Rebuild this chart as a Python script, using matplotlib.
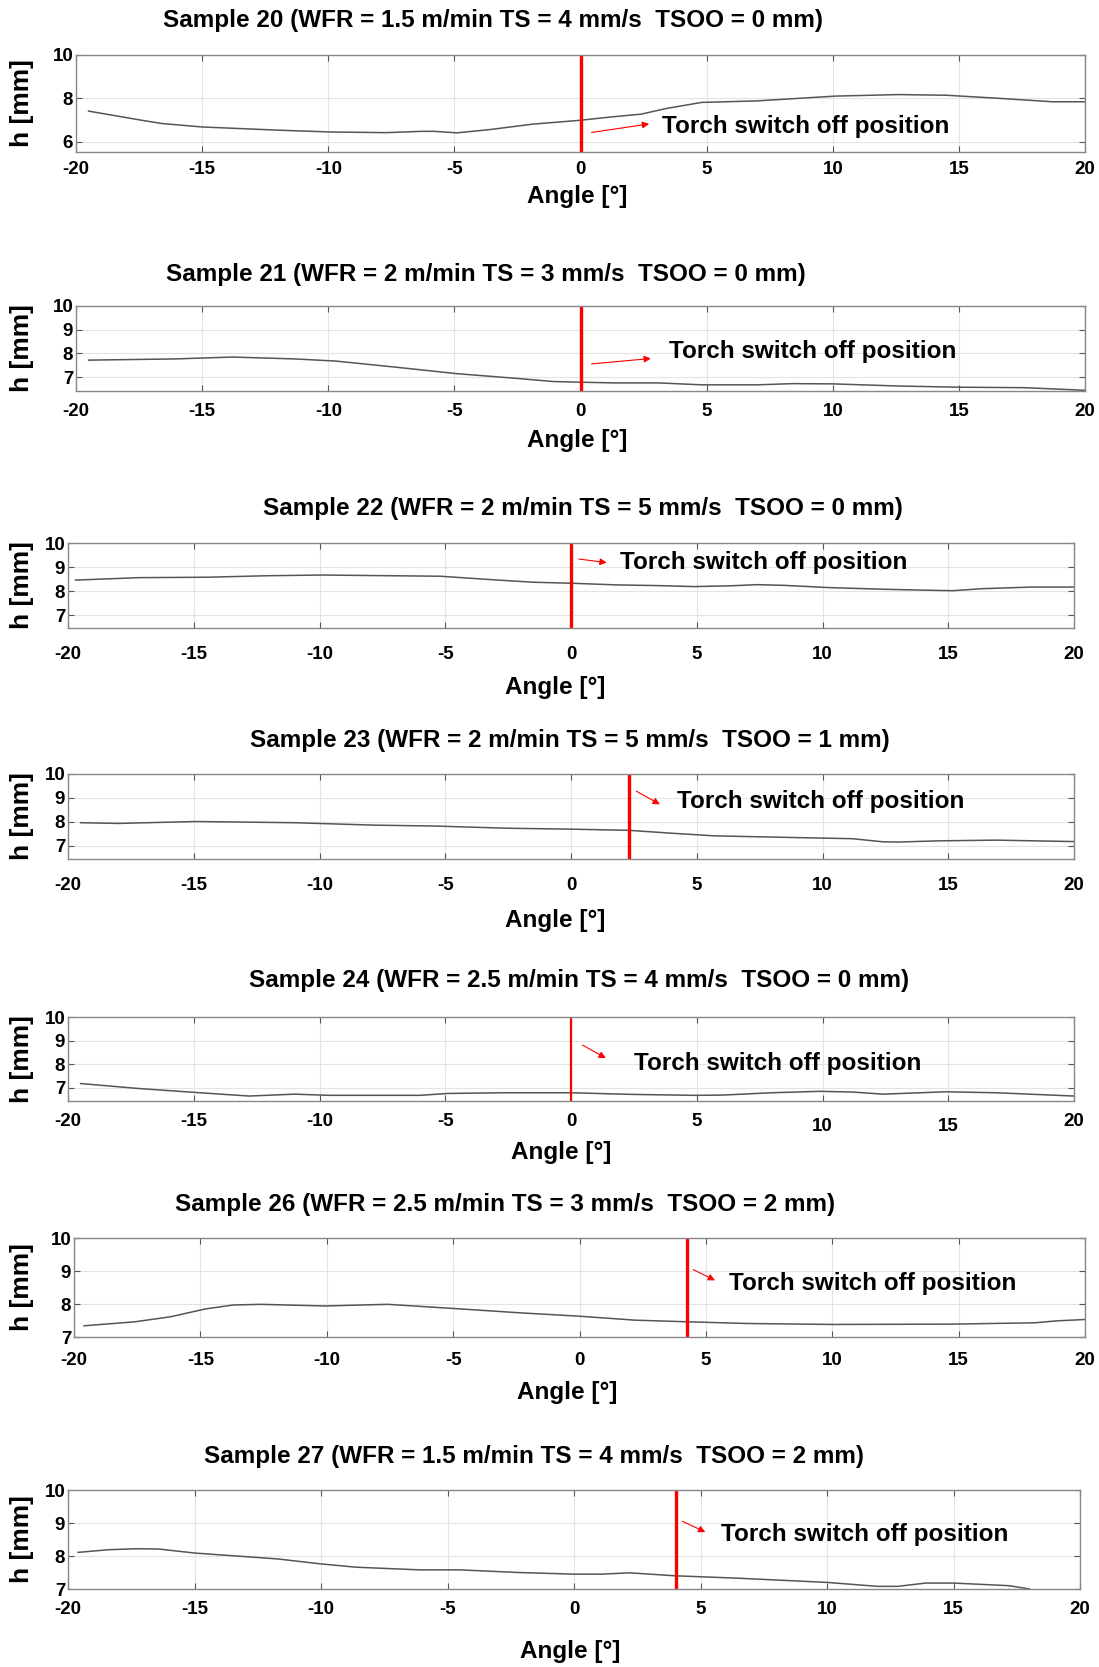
import numpy as np
import matplotlib.pyplot as plt
from matplotlib import transforms

plt.rcParams['font.family'] = ['Liberation Sans', 'DejaVu Sans']
plt.rcParams['font.weight'] = 'bold'
plt.rcParams['axes.unicode_minus'] = False

# Données
titles = [
    "Sample 20 (WFR = 1.5 m/min TS = 4 mm/s  TSOO = 0 mm)",
    "Sample 21 (WFR = 2 m/min TS = 3 mm/s  TSOO = 0 mm)",
    "Sample 22 (WFR = 2 m/min TS = 5 mm/s  TSOO = 0 mm)",
    "Sample 23 (WFR = 2 m/min TS = 5 mm/s  TSOO = 1 mm)",
    "Sample 24 (WFR = 2.5 m/min TS = 4 mm/s  TSOO = 0 mm)",
    "Sample 26 (WFR = 2.5 m/min TS = 3 mm/s  TSOO = 2 mm)",
    "Sample 27 (WFR = 1.5 m/min TS = 4 mm/s  TSOO = 2 mm)",
]

angle_20 = [-19.5, -17.4, -16.6, -15, -11.9, -9.9, -7.7, -6.3, -5.8, -4.9, -3.6, -1.9, 0, 1.2, 2.4, 3.4, 4.8, 7.0, 10.1, 12.6, 14.5, 16.7, 18.7, 20]
h_20 = [7.42, 7.0, 6.85, 6.69, 6.54, 6.46, 6.43, 6.49, 6.49, 6.42, 6.57, 6.82, 7.0, 7.15, 7.28, 7.54, 7.82, 7.89, 8.11, 8.18, 8.15, 8.0, 7.85, 7.85]

angle_21 = [-19.5, -16.1, -13.8, -11.3, -9.7, -7.2, -4.9, -2.4, -1.1, 0, 1.4, 3.1, 4.8, 7, 8.4, 10, 12.6, 15, 17.6, 20]
h_21 = [7.72, 7.77, 7.85, 7.77, 7.68, 7.41, 7.15, 6.94, 6.82, 6.79, 6.76, 6.76, 6.68, 6.68, 6.73, 6.72, 6.63, 6.58, 6.56, 6.45]

angle_22 = [-19.7, -17.2, -14.4, -12.1, -9.9, -7.1, -5.2, -3.2, -1.5, 0, 1.8, 3.5, 4.9, 6.3, 7.4, 8.5, 10.2, 12.4, 14.1, 15.2, 16.3, 18.3, 20]
h_22 = [8.46, 8.56, 8.58, 8.64, 8.67, 8.64, 8.62, 8.48, 8.37, 8.33, 8.26, 8.23, 8.19, 8.22, 8.27, 8.24, 8.15, 8.08, 8.04, 8.02, 8.1, 8.17, 8.17]

angle_23 = [-19.5, -18, -14.9, -11, -7.9, -5.4, -2.6, 0, 2.3, 4, 5.7, 7.9, 9.3, 11.2, 12.4, 13, 14.6, 16.9, 20]
h_23 = [7.96, 7.93, 8.01, 7.96, 7.86, 7.82, 7.73, 7.69, 7.64, 7.52, 7.41, 7.36, 7.33, 7.29, 7.16, 7.15, 7.2, 7.23, 7.17]

angle_24 = [-19.5, -17.2, -14.9, -12.8, -11, -9.6, -6, -4.9, -2.6, 0, 2.4, 4.9, 6, 8, 9.9, 11.2, 12.4, 14.9, 16.9, 20]
h_24 = [7.18, 6.97, 6.8, 6.65, 6.73, 6.68, 6.68, 6.76, 6.79, 6.79, 6.72, 6.68, 6.69, 6.79, 6.85, 6.82, 6.73, 6.83, 6.79, 6.65]

angle_26 = [-19.6, -17.6, -16.2, -14.8, -13.7, -12.6, -10.1, -7.6, -5.1, -2.3, 0, 2.2, 4.3, 6.6, 10, 14.7, 18, 18.9, 20]
h_26 = [7.34, 7.46, 7.61, 7.85, 7.97, 7.99, 7.94, 7.99, 7.87, 7.73, 7.63, 7.51, 7.46, 7.41, 7.38, 7.39, 7.43, 7.49, 7.53]

angle_27 = [-19.6, -18.4, -17.3, -16.4, -15, -12.8, -11.7, -10, -8.6, -6.1, -4.5, -2.2, 0, 1.1, 2.2, 4, 6.4, 10, 12, 12.8, 13.9, 15, 17.2, 18]
h_27 = [8.11, 8.19, 8.22, 8.21, 8.09, 7.97, 7.91, 7.76, 7.66, 7.58, 7.58, 7.5, 7.45, 7.45, 7.49, 7.4, 7.33, 7.2, 7.08, 7.08, 7.18, 7.18, 7.1, 7.0]

angles = [angle_20, angle_21, angle_22, angle_23, angle_24, angle_26, angle_27]
heights = [h_20, h_21, h_22, h_23, h_24, h_26, h_27]
switch_off = [0, 0, 0, 2.3, 0, 4.26, 4.04]
y_ticks = [[6, 8, 10], [7, 8, 9, 10], [7, 8, 9, 10], [7, 8, 9, 10],
           [7, 8, 9, 10], [7, 8, 9, 10], [7, 8, 9, 10]]
y_limits = [(5.54, 10), (6.42, 10), (6.47, 10), (6.44, 10), (6.44, 10), (7, 10), (7, 10)]
# flèche : (queue x, queue y, tête x, tête y, texte x, texte y)
arrows = [
    (0.33, 6.42, 2.83, 6.85, 3.25, 6.72),
    (0.33, 7.55, 2.9, 7.8, 3.5, 8.1),
    (0.2, 9.35, 1.53, 9.17, 1.95, 9.2),
    (2.5, 9.34, 3.63, 8.67, 4.2, 8.85),
    (0.36, 8.87, 1.48, 8.2, 2.5, 8.03),
    (4.4, 9.08, 5.46, 8.68, 5.93, 8.63),
    (4.18, 9.09, 5.29, 8.69, 5.8, 8.64),
]

# Mise en page (pixels) : gauche, haut, droite, bas, titre (x, y), xlabel (x, y), y des étiquettes x
W, H = 1099, 1667
layout = [
    (76, 55, 1085, 152, 493, 20, 577, 197, 170),
    (76, 306, 1085, 391, 486, 275, 577, 440, 412),
    (68, 543, 1074, 628, 583, 508, 555, 687, 655),
    (68, 774, 1074, 859, 570, 740, 555, 920, 886),
    (68, 1017, 1074, 1101, 579, 980, 561, 1152, 1122),
    (74, 1238, 1085, 1337, 505, 1204, 567, 1393, 1361),
    (68, 1490, 1080, 1589, 534, 1456, 570, 1651, 1610),
]

fig = plt.figure(figsize=(W / 100, H / 100), dpi=100)

for i in range(7):
    l, t, r, b, tx, ty, lx, ly, tly = layout[i]
    ax = fig.add_axes([l / W, 1 - b / H, (r - l) / W, (b - t) / H])
    ax.plot(angles[i], heights[i], color='#555555', lw=1.1)
    ax.set_xlim(-20, 20)
    ax.set_ylim(*y_limits[i])
    ax.set_xticks(range(-20, 21, 5))
    ax.set_yticks(y_ticks[i])
    ax.grid(True, color='#e4e4e4', lw=0.8)
    ax.set_axisbelow(True)
    for s in ax.spines.values():
        s.set_color('#888888')
        s.set_linewidth(1.0)
    pad = (tly - b - 9) * 0.72
    ax.tick_params(axis='x', direction='in', top=True, length=4, pad=pad,
                   labelsize=13.5, color='#555555')
    ax.tick_params(axis='y', direction='in', right=True, length=4, pad=2,
                   labelsize=13.5, color='#555555')
    if i == 4:
        for lab in ax.get_xticklabels():
            if lab.get_text() in ('10', '15'):
                lab.set_transform(lab.get_transform() + transforms.ScaledTranslation(0, -5 / 100, fig.dpi_scale_trans))
    ax.axvline(switch_off[i], color='red', lw=2.4 if i != 4 else 1.6)
    x0, y0, x1, y1, xt, yt = arrows[i]
    ax.annotate('', xy=(x1, y1), xytext=(x0, y0),
                arrowprops=dict(arrowstyle='-|>', color='red', lw=0.8,
                                mutation_scale=10))
    ax.text(xt, yt, "Torch switch off position", fontsize=17.5, fontweight='bold',
            va='center', ha='left')
    fig.text(tx / W, 1 - ty / H, titles[i], fontsize=17.5, fontweight='bold',
             ha='center', va='center')
    fig.text(lx / W, 1 - ly / H, "Angle [°]", fontsize=17.5, fontweight='bold',
             ha='center', va='center')
    fig.text(22 / W, 1 - ((t + b) / 2) / H, "h [mm]", fontsize=19, fontweight='bold',
             rotation=90, ha='center', va='center')

fig.savefig('out.png', dpi=100)
